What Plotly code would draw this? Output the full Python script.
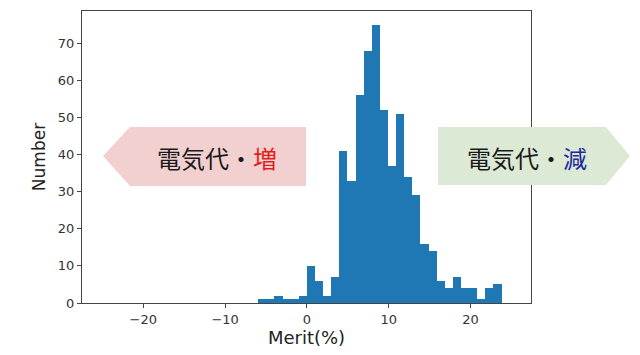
import plotly.graph_objects as go

# Histogram data
bin_start = -5.95
bin_width = 0.9917
counts = [1, 1, 2, 1, 1, 2, 10, 6, 2, 7, 41, 33, 56, 68, 75, 52, 37, 51, 34, 29,
          16, 14, 6, 4, 7, 4, 4, 1, 4, 5]
centers = [bin_start + (i + 0.5) * bin_width for i in range(len(counts))]

x_ticks = [-20, -10, 0, 10, 20]
y_ticks = [0, 10, 20, 30, 40, 50, 60, 70]

fig = go.Figure()
fig.add_trace(go.Bar(x=centers, y=counts, width=bin_width,
                     marker=dict(color="#1f77b4", line=dict(width=0)),
                     hoverinfo="skip"))

L, R, T, B = 82, 531, 11, 303
W, H = R - L, B - T


def px(x):
    return (x - L) / W


def py(y):
    return (B - y) / H


def path(pts):
    s = "M " + " L ".join(f"{px(a):.4f},{py(b):.4f}" for a, b in pts) + " Z"
    return s


pink = [(103, 156), (130, 127), (306, 127), (306, 186), (130, 186)]
green = [(438, 127), (606, 127), (630, 156), (606, 185), (438, 185)]

fig.add_shape(type="path", path=path(pink), xref="paper", yref="paper",
              fillcolor="#f3d0d0", line=dict(width=0), layer="above")
fig.add_shape(type="path", path=path(green), xref="paper", yref="paper",
              fillcolor="#dce9d5", line=dict(width=0), layer="above")

cjk = "Noto Sans CJK JP"
fig.add_annotation(x=px(217), y=py(157), xref="paper", yref="paper",
                   text='電気代・<span style="color:#e0201b">増</span>',
                   showarrow=False, font=dict(family=cjk, size=24, color="#1a1a1a"),
                   xanchor="center", yanchor="middle")
fig.add_annotation(x=px(527), y=py(157), xref="paper", yref="paper",
                   text='電気代・<span style="color:#1c2aa0">減</span>',
                   showarrow=False, font=dict(family=cjk, size=24, color="#1a1a1a"),
                   xanchor="center", yanchor="middle")

axis_common = dict(showline=True, linecolor="#444444", linewidth=1, mirror=True,
                   ticks="outside", ticklen=4, tickcolor="#444444",
                   showgrid=False, zeroline=False,
                   tickfont=dict(family="DejaVu Sans", size=13, color="#333333"))

fig.update_layout(
    width=640, height=355,
    margin=dict(l=L, r=640 - R, t=T, b=355 - B),
    paper_bgcolor="white", plot_bgcolor="white",
    showlegend=False, bargap=0,
    xaxis=dict(range=[-27.5, 27.4], tickvals=x_ticks,
               ticktext=[str(v).replace("-", "−") for v in x_ticks],
               title=dict(text="Merit(%)", standoff=5,
                          font=dict(family="DejaVu Sans", size=18, color="#222222")),
               **axis_common),
    yaxis=dict(range=[0, 78.75], tickvals=y_ticks,
               title=dict(text="Number", standoff=7,
                          font=dict(family="DejaVu Sans", size=17, color="#222222")),
               **axis_common),
)

fig.write_html("out.html")
